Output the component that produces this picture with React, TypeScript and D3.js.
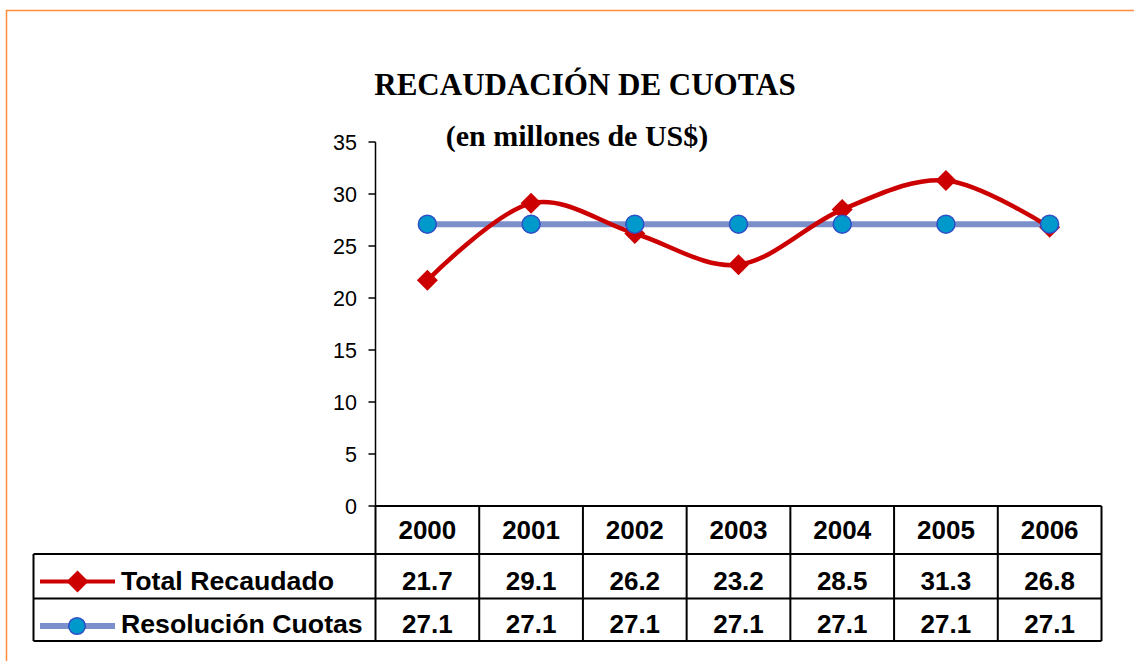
import React from "react";
import * as d3 from "d3";

const years = ["2000", "2001", "2002", "2003", "2004", "2005", "2006"];
const totalRecaudado = [21.7, 29.1, 26.2, 23.2, 28.5, 31.3, 26.8];
const resolucionCuotas = [27.1, 27.1, 27.1, 27.1, 27.1, 27.1, 27.1];
const yTicks = [0, 5, 10, 15, 20, 25, 30, 35];
const seriesNames = ["Total Recaudado", "Resolución Cuotas"];

export default function App() {
  const W = 1134, H = 661;
  const left = 375.5, right = 1101.5, top = 142, bottom = 506;
  const x = d3.scaleBand<string>().domain(years).range([left, right]);
  const y = d3.scaleLinear().domain([0, 35]).range([bottom, top]);
  const cx = (d: string) => (x(d) as number) + x.bandwidth() / 2;

  const redLine = d3
    .line<number>()
    .x((_, i) => cx(years[i]))
    .y((v) => y(v))
    .curve(d3.curveCardinal.tension(0));
  const blueLine = d3
    .line<number>()
    .x((_, i) => cx(years[i]))
    .y((v) => y(v));

  const rowTops = [506, 554, 598.5, 641];
  const rowBase = [539, 589.5, 632.5];
  const tableLeft = 33.5;
  const red = "#CC0000";
  const blue = "#7B8FCB";
  const diamond = (px: number, py: number, r: number) =>
    `M${px},${py - r}L${px + r},${py}L${px},${py + r}L${px - r},${py}Z`;

  const font = "Arial, 'Liberation Sans', sans-serif";
  const serif = "'Times New Roman', 'Liberation Serif', serif";

  return (
    <svg width={W} height={H} style={{ position: "absolute", left: 0, top: 0 }}>
      <rect x={0} y={0} width={W} height={H} fill="#fff" />
      <rect x={6.5} y={10.5} width={W + 20} height={H + 20} fill="none" stroke="#FF8C3A" strokeWidth={1.5} />
      <text x={585} y={95} textAnchor="middle" fontFamily={serif} fontWeight="bold" fontSize={31}>
        RECAUDACIÓN DE CUOTAS
      </text>
      <text x={577} y={146} textAnchor="middle" fontFamily={serif} fontWeight="bold" fontSize={30}>
        (en millones de US$)
      </text>

      {/* y axis */}
      <line x1={left} x2={left} y1={top} y2={bottom} stroke="#000" strokeWidth={1.5} />
      {yTicks.map((t) => (
        <g key={t}>
          <line x1={left - 7} x2={left} y1={y(t)} y2={y(t)} stroke="#000" strokeWidth={1.5} />
          <text x={357} y={y(t)} dy="0.36em" textAnchor="end" fontFamily={font} fontSize={21.5}>
            {t}
          </text>
        </g>
      ))}

      {/* series */}
      <path d={blueLine(resolucionCuotas) || ""} fill="none" stroke={blue} strokeWidth={6} />
      <path d={redLine(totalRecaudado) || ""} fill="none" stroke={red} strokeWidth={4.5} />
      {totalRecaudado.map((v, i) => (
        <path key={"d" + i} d={diamond(cx(years[i]), y(v), 10.5)} fill={red} />
      ))}
      {resolucionCuotas.map((v, i) => (
        <circle key={"c" + i} cx={cx(years[i])} cy={y(v)} r={9} fill="#0099CC" stroke="#2F4FC8" strokeWidth={1.5} />
      ))}

      {/* data table */}
      <g stroke="#000" strokeWidth={2} fill="none">
        <line x1={left} x2={right} y1={rowTops[0]} y2={rowTops[0]} />
        <line x1={tableLeft} x2={right} y1={rowTops[1]} y2={rowTops[1]} />
        <line x1={tableLeft} x2={right} y1={rowTops[2]} y2={rowTops[2]} />
        <line x1={tableLeft} x2={right} y1={rowTops[3]} y2={rowTops[3]} />
        <line x1={tableLeft} x2={tableLeft} y1={rowTops[1]} y2={rowTops[3]} />
        {years.map((yr) => (
          <line key={yr} x1={x(yr)} x2={x(yr)} y1={rowTops[0]} y2={rowTops[3]} />
        ))}
        <line x1={right} x2={right} y1={rowTops[0]} y2={rowTops[3]} />
      </g>
      {years.map((yr, i) => (
        <g key={"t" + yr} fontFamily={font} fontWeight="bold" fontSize={26} textAnchor="middle">
          <text x={cx(yr)} y={rowBase[0]}>{yr}</text>
          <text x={cx(yr)} y={rowBase[1]}>{totalRecaudado[i].toFixed(1)}</text>
          <text x={cx(yr)} y={rowBase[2]}>{resolucionCuotas[i].toFixed(1)}</text>
        </g>
      ))}

      {/* legend keys */}
      <line x1={40} x2={115} y1={581.5} y2={581.5} stroke={red} strokeWidth={4} />
      <path d={diamond(77.5, 581.5, 11)} fill={red} />
      <line x1={40} x2={115} y1={626} y2={626} stroke={blue} strokeWidth={6} />
      <circle cx={77} cy={626} r={8.3} fill="#0099CC" stroke="#2F4FC8" strokeWidth={1.5} />
      <text x={121} y={rowBase[1]} fontFamily={font} fontWeight="bold" fontSize={26.7}>
        {seriesNames[0]}
      </text>
      <text x={121} y={rowBase[2]} fontFamily={font} fontWeight="bold" fontSize={26.7}>
        {seriesNames[1]}
      </text>
    </svg>
  );
}
